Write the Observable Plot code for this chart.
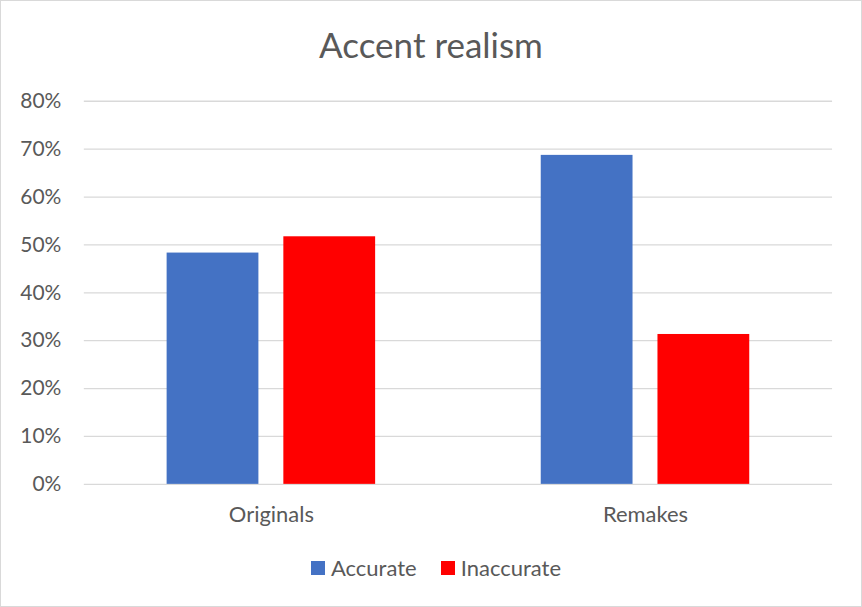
<!DOCTYPE html>
<html>
<head>
<meta charset="utf-8">
<script src="https://cdn.jsdelivr.net/npm/d3@7"></script>
<script src="https://cdn.jsdelivr.net/npm/@observablehq/plot@0.6"></script>
<style>
  html, body { margin: 0; padding: 0; background: #fff; }
  #chart {
    position: relative;
    width: 862px;
    height: 607px;
    box-sizing: border-box;
    border: 1px solid #d9d9d9;
    font-family: Lato, "Open Sans", sans-serif;
    color: #595959;
    overflow: hidden;
  }
  #chart svg { position: absolute; left: -1px; top: -1px; }
  #title {
    position: absolute; left: 0; width: 860px; top: 26px;
    text-align: center; font-size: 35px; line-height: 1; white-space: nowrap;
  }
  #legend {
    position: absolute; left: 5px; width: 860px; top: 556px;
    display: flex; justify-content: center; align-items: center;
    font-size: 22px; line-height: 1;
  }
  .item { display: flex; align-items: center; margin: 0 12px; }
  .swatch { width: 14px; height: 14px; margin-right: 6px; }
</style>
</head>
<body>
<div id="chart">
  <div id="title"></div>
  <div id="legend"></div>
</div>
<script>
const title = "Accent realism";
const categories = ["Originals", "Remakes"];
const seriesNames = ["Accurate", "Inaccurate"];
const accurate = [0.483, 0.687];
const inaccurate = [0.517, 0.313];
const seriesColors = ["#4472C4", "#FF0000"];
const yTicks = [0, 0.1, 0.2, 0.3, 0.4, 0.5, 0.6, 0.7, 0.8];

const rows = categories.flatMap((c, i) => [
  {category: c, series: seriesNames[0], value: accurate[i]},
  {category: c, series: seriesNames[1], value: inaccurate[i]}
]);

const plot = Plot.plot({
  width: 862,
  height: 607,
  marginLeft: 83,
  marginRight: 28,
  marginTop: 101,
  marginBottom: 122,
  style: {color: "#595959", fontFamily: "Lato, 'Open Sans', sans-serif", background: "transparent"},
  fx: {domain: categories, padding: 0, label: null},
  x: {domain: seriesNames, paddingInner: 0.2137, paddingOuter: 0.709, axis: null},
  y: {domain: [0, 0.8], label: null},
  color: {domain: seriesNames, range: seriesColors},
  marks: [
    Plot.gridY(yTicks, {stroke: "#d9d9d9", strokeOpacity: 1, strokeWidth: 1.3}),
    Plot.axisY(yTicks, {tickSize: 0, tickPadding: 23, tickFormat: d3.format(".0%"), fontSize: 21, label: null}),
    Plot.axisFx({anchor: "bottom", tickSize: 0, tickPadding: 22, fontSize: 22, label: null}),
    Plot.barY(rows, {fx: "category", x: "series", y: "value", fill: "series"})
  ]
});

const chart = document.getElementById("chart");
chart.appendChild(plot);
document.getElementById("title").textContent = title;

const legend = document.getElementById("legend");
seriesNames.forEach((name, i) => {
  const item = document.createElement("div");
  item.className = "item";
  const sw = document.createElement("span");
  sw.className = "swatch";
  sw.style.background = seriesColors[i];
  const label = document.createElement("span");
  label.textContent = name;
  item.appendChild(sw);
  item.appendChild(label);
  legend.appendChild(item);
});
</script>
</body>
</html>
